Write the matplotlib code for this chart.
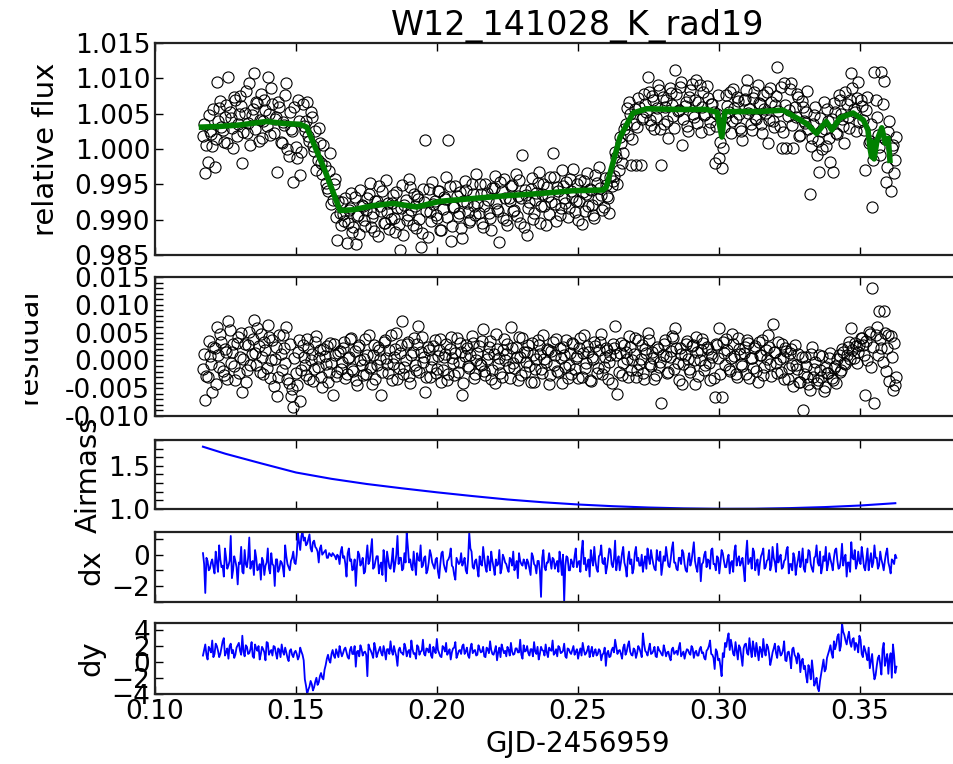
import numpy as np
import matplotlib
matplotlib.use("Agg")
import matplotlib.pyplot as plt
from matplotlib.ticker import MultipleLocator, FormatStrFormatter
from matplotlib.transforms import Bbox, TransformedBbox

plt.rcParams['font.family'] = ['DejaVu Sans']
plt.rcParams['font.size'] = 19
plt.rcParams['axes.labelsize'] = 21
plt.rcParams['axes.unicode_minus'] = True

# observation window; frames are evenly spaced, two interleaved sets (a: even, b: odd frames)
t_start, t_end = 0.117, 0.3625

# relative flux, parts per thousand above 1.0
flux_a = [
    1.8, -3.4, -1.8, 2.6, 0.4, -2.5, 9.5, 5.8, 3.1, 1.0, 6.2, 10.2, 4.4, 0.2, 6.9, 3.6, 7.5, -2.0, 5.1, 2.3,
    9.3, 4.8, 10.8, 6.6, 1.2, 7.8, 3.9, 5.5, 10.2, 2.0, 6.4, 4.2, -3.2, 5.9, 0.9, 3.4, 9.4, -1.0, 2.8, -4.6,
    0.3, 6.9, -3.7, 6.3, 2.5, 6.6, 1.2, 4.5, -0.3, -3.0, 3.0, -2.0, 0.5, -4.8, -6.0, -0.5, -7.2, -4.3, -12.9, -9.0,
    -7.5, -10.2, -13.3, -8.6, -6.2, -11.0, -13.4, -9.4, -5.8, -8.1, -10.9, -6.9, -4.8, -9.6, -11.6, -7.3, -5.3, -8.8, -10.4, -4.4,
    -7.7, -9.9, -6.5, -11.8, -8.3, -14.3, -5.1, -7.9, -10.0, -4.2, -8.6, -6.4, -11.2, -7.1, -13.8, -5.6, 1.3, -12.5, -8.9, -4.6,
    -7.4, -9.8, -5.9, -11.5, -6.8, -3.9, 1.3, -13.0, -8.2, -5.3, -9.5, -6.1, -12.6, -4.5, -7.6, -10.3, -5.0, -8.0, -3.6, -9.1,
    -6.3, -11.0, -4.9, -7.2, -9.7, -5.5, -3.8, -8.5, -13.1, -6.0, -4.3, -10.0, -7.0, -5.2, -8.8, -3.5, -6.7, -10.5, -0.9, -5.8,
    -12.1, -7.5, -4.1, -9.0, -6.2, -3.2, -8.0, -5.0, -10.8, -6.6, -4.0, -0.6, -7.8, -5.4, -9.3, -3.0, -6.9, -4.7, -8.4, -5.9,
    -2.8, -7.3, -10.1, -4.4, -6.1, -8.7, -3.4, -5.6, -7.9, -9.8, -4.8, -2.5, -6.5, -8.2, -5.1, -7.0, -3.9, -4.5, -0.4, -5.0,
    1.7, -2.0, 2.9, 5.8, 6.7, -2.3, 3.5, -2.3, 7.2, -2.3, 4.6, 6.3, 10.2, 4.1, 7.5, 2.9, 5.8, 8.4, -2.3, 3.6,
    6.9, 1.5, 7.9, 4.7, 11.2, 5.4, 8.8, 0.6, 6.1, 3.3, 7.4, 9.2, 4.5, 9.8, 6.7, 2.4, 8.1, 5.0, 7.2, 3.8,
    6.4, -2.0, 4.9, -1.3, -2.7, 3.1, 7.6, 5.3, 2.2, 8.5, 4.4, 6.8, 3.0, 1.3, 7.1, 9.8, 5.6, 2.7, 8.0, 4.2,
    6.5, 3.5, 7.7, 5.1, 0.8, 8.6, 4.0, 6.2, 11.6, 3.2, 0.1, 9.4, 0.1, 5.5, 9.3, 0.1, 4.6, 7.3, 2.0, 6.0,
    3.7, 8.2, -6.3, 1.6, 4.8, -0.9, -3.2, 2.5, 6.6, 0.4, 3.9, -1.8, -3.2, 5.2, 2.1, 7.0, 4.3, 0.9, 6.4, 3.0,
    10.7, 5.7, 2.6, 9.5, 6.9, 4.1, -3.0, 7.4, 1.2, -8.2, 10.9, 4.6, 0.3, 10.9, 9.6, -4.6, 2.4, -6.0, 0.6, -1.5,
]
flux_b = [
    3.5, 0.6, 4.8, 2.1, 5.6, 1.4, 3.9, 6.8, 2.7, 4.5, 0.9, 5.2, 3.0, 7.3, 1.8, 4.9, 6.1, 2.4, 8.2, 3.7,
    0.5, 5.7, 2.9, 6.5, 4.1, 1.6, 7.0, 3.3, 5.0, 8.6, 2.2, 4.6, 6.7, 1.0, 3.8, 7.6, 0.0, 5.3, 2.6, 6.0,
    -1.3, 4.0, -0.4, 3.2, 4.0, 1.8, 5.2, 0.4, 2.6, -1.5, 0.9, -3.6, -2.4, -5.5, -3.1, -7.8, -5.0, -9.6, -7.4, -10.8,
    -9.2, -7.0, -10.5, -8.3, -11.7, -6.8, -9.5, -12.0, -7.9, -10.1, -8.6, -6.3, -11.1, -9.0, -7.4, -12.3, -8.0, -5.9, -10.4, -8.9,
    -11.3, -7.6, -9.7, -6.1, -10.6, -8.4, -12.2, -7.2, -9.3, -5.4, -10.8, -8.1, -6.6, -9.9, -11.9, -7.5, -8.8, -5.7, -10.2, -7.8,
    -9.4, -6.0, -11.4, -8.5, -7.1, -9.6, -5.3, -10.9, -8.2, -6.7, -9.1, -11.2, -7.3, -5.8, -8.9, -10.0, -6.4, -9.3, -7.7, -4.9,
    -10.5, -8.0, -6.2, -9.0, -11.4, -5.5, -7.6, -8.7, -4.6, -9.8, -6.9, -10.7, -7.4, -5.1, -8.6, -9.5, -4.4, -7.0, -11.0, -6.5,
    -8.3, -5.7, -9.9, -7.2, -4.8, -10.4, -6.3, -8.1, -5.4, -9.2, -7.5, -3.9, -10.2, -6.0, -8.4, -5.2, -7.7, -9.6, -4.3, -6.8,
    -8.9, -5.0, -7.3, -10.6, -4.5, -6.4, -8.0, -5.8, -9.4, -3.7, -7.1, -5.5, -8.6, -4.1, -6.6, -9.0, -5.3, -3.8, -1.2, -2.9,
    0.8, -0.5, 3.6, 2.0, 4.9, 1.4, 5.6, 3.1, 6.0, 4.2, 7.8, 5.2, 8.0, 3.4, 6.9, 4.6, 9.1, 2.8, 7.3, 5.9,
    4.0, 8.7, 6.2, 3.0, 7.8, 5.5, 9.5, 4.3, 6.6, 2.5, 8.3, 5.0, 7.0, 3.7, 9.0, 6.0, 4.8, 8.9, 2.9, 6.3,
    5.3, 3.2, 7.7, 1.0, 0.2, 4.5, 6.1, 8.1, 3.9, 5.8, 7.4, 4.9, 2.6, 6.9, 8.4, 5.1, 3.6, 7.2, 4.4, 9.0,
    6.4, 2.3, 5.7, 8.0, 4.1, 6.6, 3.1, 7.5, 5.4, 8.8, 2.4, 6.2, 4.7, 8.5, 3.4, 5.9, 7.8, 1.9, 6.8, 4.0,
    5.2, 2.8, 0.4, 3.5, 6.0, 1.1, 4.4, 0.0, 2.9, 5.6, 1.5, 4.2, 6.5, 2.2, 7.7, 5.0, 3.3, 8.1, 4.6, 6.9,
    8.6, 5.3, 7.2, 3.8, 6.1, 2.7, 5.5, 0.8, 3.6, -1.6, 7.0, 2.0, -0.8, 6.3, 1.4, -2.6, 3.9, 0.2, -3.4, 1.7,
]

# residual, parts per thousand
resid_a = [
    -1.5, -7.1, -3.0, 0.8, -5.6, 2.2, 6.1, -1.2, 3.4, -2.6, 1.5, 7.0, -0.4, 2.9, -3.6, 4.2, 0.6, -5.6, 3.0, -1.8,
    5.2, 1.1, 7.2, -0.9, 2.6, 4.8, -2.4, 1.9, 6.4, -3.1, 3.7, 0.2, -6.4, 4.5, -1.7, 2.3, 6.1, -4.0, -6.4, -8.3,
    -2.2, 1.6, -7.3, 2.8, -0.9, 3.9, -3.3, 1.2, -1.6, 4.4, 0.5, -2.9, 2.0, -0.7, -3.8, 3.1, -6.2, 0.9, -2.1, 1.7,
    -0.3, 3.4, -2.5, 0.7, 4.1, -1.9, -3.6, 2.4, 0.0, -2.7, 3.8, 1.0, -1.4, -4.2, 2.7, -0.8, 1.9, -6.2, 3.3, 0.4,
    -2.2, 4.6, -0.6, 2.1, -3.4, 1.3, 7.0, -1.1, 3.0, -2.8, 0.9, 4.0, -1.7, 6.2, 1.6, -0.2, -5.6, 2.5, -3.0, 0.3,
    3.6, -1.5, 1.8, -3.9, 0.6, 2.9, -2.4, 4.3, -0.5, 1.4, -2.0, 3.1, -6.3, 0.8, 2.2, -1.3, 4.4, -3.2, 0.1, 2.6,
    -0.9, 5.6, -2.6, 1.2, 3.5, -1.8, -4.0, 2.0, 0.4, -2.9, 3.8, 1.1, -1.2, 6.1, -0.4, 2.4, -3.5, 0.7, 4.0, -2.1,
    1.5, -1.0, 3.2, -3.8, 0.2, 2.7, -1.6, 4.6, -0.3, 1.9, -2.7, 3.4, 0.9, -1.9, 2.3, -4.1, 1.0, 3.7, -0.8, -2.5,
    2.9, 0.5, -3.1, 4.1, 1.3, -1.4, 2.6, -3.6, 0.6, 3.3, -2.2, 1.8, 4.7, -1.1, 2.2, -3.3, 0.9, 3.0, 6.2, -6.0,
    1.4, -2.6, 2.8, 0.2, 4.4, -1.7, 1.1, -3.0, 3.6, 0.3, -2.3, 2.0, 4.9, -0.7, 1.6, -3.4, 2.5, -1.2, -7.6, 3.0,
    0.8, -2.0, 1.7, 4.0, 5.8, -0.5, 2.3, -4.2, 1.0, 3.5, -1.5, 2.6, 0.0, 4.3, -2.8, 1.8, 3.1, -0.9, 2.0, -3.6,
    0.7, -6.5, 2.7, 5.8, -6.5, 1.3, 3.9, -1.6, 0.5, 2.9, -2.4, 4.1, 1.2, -1.0, 2.4, 3.6, -3.2, 0.4, 2.2, -1.9,
    3.3, 0.9, -2.7, 1.9, 4.5, -0.6, 6.6, 1.5, -2.2, 0.3, 3.0, -3.3, 1.7, -1.3, 2.1, -4.6, -0.8, 1.2, -3.8, -8.9,
    0.6, -2.9, -5.4, 2.4, -1.5, -4.1, 0.9, -3.0, -5.5, -1.1, -2.3, 1.4, -3.6, -1.0, 0.3, -2.0, 2.1, -0.4, 1.0, 3.3,
    5.8, 0.5, 2.6, 1.6, 4.0, 2.8, -6.2, 0.0, 4.7, 13.0, -7.7, 6.0, 8.8, 2.2, 8.8, -1.9, 4.6, 4.4, -5.3, -4.5,
]
resid_b = [
    1.2, -2.8, 3.5, -0.6, 2.4, -4.3, 0.9, 4.7, -1.9, 2.0, -3.3, 5.4, 1.6, -1.0, 3.1, -2.2, 4.9, 0.3, -3.9, 2.7,
    -0.8, 3.9, 1.4, 5.9, -2.0, 0.6, 3.3, -1.3, 4.2, 0.0, -4.6, 2.5, -2.9, 1.1, 4.5, -0.5, -3.4, 2.9, -5.1, 0.4,
    -4.4, 3.6, -1.8, 0.7, -2.6, 2.3, 0.1, -3.7, 3.4, -1.1, 1.9, -4.8, 0.8, 2.6, -2.0, -0.4, 3.0, -2.8, 1.3, -1.5,
    2.2, -3.1, 0.5, 3.9, -1.6, 1.7, -4.4, 2.8, -0.9, 0.3, -2.5, 4.6, -1.2, 1.0, -3.3, 2.4, 0.2, -2.1, 3.7, -0.7,
    1.8, -3.5, 0.6, 5.0, -1.4, 2.7, -2.4, 0.1, 3.3, -4.1, 1.5, -0.8, 2.9, -2.0, 4.2, 0.7, -3.0, 1.9, -1.2, 2.6,
    -2.3, 0.8, 3.8, -1.7, 1.2, -3.6, 2.1, 0.4, -2.6, 4.0, -0.3, 1.6, -4.0, 2.8, -1.0, 0.9, 3.2, -2.5, 1.4, -0.6,
    3.5, -1.9, 0.2, 2.5, -3.4, 1.1, 4.8, -0.7, -2.2, 1.8, 0.0, 3.0, -3.1, 2.3, -1.4, 0.6, 4.3, -2.7, 1.5, -0.2,
    2.7, -3.8, 0.9, -1.5, 3.6, 1.2, -2.3, 0.3, 2.0, -4.2, 1.7, -0.9, 3.9, -2.0, 0.5, 2.4, -1.1, -3.2, 1.3, 3.1,
    -1.6, 0.8, 2.2, -2.9, 4.5, -0.5, 1.5, -3.7, 0.3, 2.6, -1.3, 3.4, -2.4, 0.7, 1.9, -0.2, -4.0, 2.3, 0.9, -2.1,
    3.2, -0.4, 1.6, -3.0, 2.5, 0.1, 4.1, -1.8, -0.6, 2.8, -3.3, 1.3, 3.7, -1.0, 0.4, -2.6, 2.1, -0.3, 1.0, 3.6,
    -2.2, 0.6, 4.4, -1.5, 2.3, -3.5, 1.1, -0.7, 3.0, 0.2, -2.0, 2.7, -4.3, 1.5, 0.0, 3.8, -1.8, 2.4, -0.5, 1.2,
    -3.1, 2.9, 0.4, -2.5, 3.4, -0.9, 1.8, -1.9, 4.7, 0.8, -3.0, 2.0, -0.6, 1.3, -2.4, 3.1, 0.5, -1.4, 2.6, -3.8,
    1.0, 3.7, -1.2, 0.2, 2.4, -2.8, 1.6, -0.4, 3.3, -2.0, 0.7, 2.2, -3.4, 1.4, -0.8, 2.8, -1.6, -3.9, 0.6, -2.4,
    -1.0, -4.3, 1.2, -2.9, -0.3, -3.6, -1.7, 0.8, -4.8, -2.2, 0.4, -3.1, -1.4, -4.0, 0.9, -1.8, 1.6, -0.7, 2.5, 0.3,
    1.9, 3.2, -0.5, 2.7, 4.1, 0.9, 3.5, 5.2, -1.2, 2.4, 4.6, 1.0, 3.9, -0.3, 5.0, 2.2, -3.7, 0.6, 3.1, -2.9,
]

# transit + systematics model (green curve)
model_t = [0.1165, 0.1230, 0.1300, 0.1396, 0.1460, 0.1514, 0.1538, 0.1600, 0.1656, 0.1703, 0.1774,
           0.1845, 0.1928, 0.2010, 0.2128, 0.2247, 0.2365, 0.2482, 0.2589, 0.2600, 0.2649, 0.2695,
           0.2744, 0.2850, 0.2956, 0.2993, 0.3010, 0.3021, 0.3145, 0.3227, 0.3310, 0.3346, 0.3380,
           0.3400, 0.3429, 0.3475, 0.3512, 0.3528, 0.3536, 0.3541, 0.3545, 0.3550, 0.3560, 0.3577,
           0.3590, 0.3600, 0.3606]
model_flux = [1.0031, 1.0032, 1.0034, 1.0039, 1.0036, 1.0035, 1.0031, 0.9972, 0.9913, 0.9914, 0.9920,
              0.9923, 0.9918, 0.9926, 0.9930, 0.9934, 0.9937, 0.9941, 0.9942, 0.9946, 1.0017, 1.0051,
              1.0057, 1.0056, 1.0056, 1.0052, 1.0017, 1.0053, 1.0053, 1.0055, 1.0036, 1.0022, 1.0039,
              1.0027, 1.0044, 1.0051, 1.0041, 1.0027, 1.0000, 0.9989, 1.0010, 0.9986, 1.0012, 1.0030,
              1.0008, 1.0015, 0.9984]

# airmass
air_t = [0.117, 0.125, 0.1375, 0.150, 0.1625, 0.175, 0.1875, 0.200, 0.2125, 0.225, 0.2375, 0.250,
         0.2625, 0.275, 0.2875, 0.300, 0.3125, 0.325, 0.3375, 0.350, 0.3625]
airmass = [1.722, 1.640, 1.530, 1.423, 1.350, 1.290, 1.240, 1.193, 1.150, 1.110, 1.078, 1.052,
           1.032, 1.017, 1.007, 1.002, 1.003, 1.010, 1.022, 1.040, 1.067]

# centroid shifts (pixels)
dx_a = [
    0.1, -2.45, -0.4, -0.9, -0.3, -1.2, -0.5, 0.6, -0.8, -1.4, -0.2, -0.7, 1.2, -1.0, -0.4, -1.9, -0.6, -1.1, 0.3, -0.8,
    1.1, -0.5, -1.3, -0.2, -0.9, -1.6, -0.4, -0.7, 0.4, -1.2, -0.6, -2.0, -0.3, -0.9, -0.5, -1.4, -0.1, -0.8, -0.4, 0.2,
    -0.6, 1.4, 0.3, 1.45, 1.1, 0.7, 1.3, 0.2, 0.9, 0.4, -0.5, 0.6, 0.1, 0.3, -0.2, 0.0, 0.1, -0.1, 0.0, -0.6,
    0.5, -0.1, -1.4, 0.4, -0.3, -0.9, -2.0, 0.2, -0.7, -0.2, -1.1, 0.6, -0.4, 1.0, -0.8, -0.1, -1.2, -0.5, 0.3, -1.7,
    -0.3, -0.9, 0.4, -0.6, 1.2, -0.2, -1.0, 0.1, 1.4, -0.5, -0.8, 0.2, -1.3, -0.3, 0.6, -0.7, -0.1, -1.0, 0.3, -0.5,
    -0.9, -0.2, -1.5, 0.1, -0.6, -1.1, -0.3, 0.4, -0.8, -1.6, -0.4, -0.5, -0.7, -0.2, -1.2, 1.4, 0.2, -0.9, -0.3, -1.4,
    -0.6, 0.5, -0.8, -0.1, -1.0, -0.4, -1.3, -0.7, 0.3, -0.9, -0.2, -0.6, -1.1, -0.3, 0.2, -0.8, -1.5, -0.4, -0.7, -0.5,
    -0.3, -0.9, 0.1, -0.6, -1.2, -0.4, -2.7, 0.3, -1.0, -0.5, -0.4, -0.2, -0.9, -0.4, 0.2, -1.3, -3.03, -0.1, -1.0, -0.3,
    -0.8, 0.4, -0.5, -1.1, 0.9, -0.2, -0.7, -1.4, -0.3, 0.5, -0.9, -0.1, 0.6, -0.6, -1.2, -0.2, 0.3, -0.8, 0.9, -0.4,
    -1.0, 0.1, -0.5, -1.4, 0.2, -0.3, -0.9, 0.5, -0.2, -0.7, -1.1, -0.1, 0.4, -0.6, -0.2, -0.9, 0.3, -0.4, -1.3, -0.1,
    0.5, -0.7, -0.3, 0.8, -0.5, -1.0, -0.2, 0.3, -0.6, -1.1, 0.1, -0.4, 0.8, -0.8, -0.2, -1.7, -0.5, 0.2, -0.3, -0.9,
    0.4, -0.6, -0.1, -1.2, 0.3, -0.4, -0.8, 0.0, -0.5, -1.1, 0.6, -0.3, -0.7, -0.2, -1.7, 0.9, -0.4, -0.9, 0.2, -0.6,
    -1.3, -0.1, 0.4, -0.8, -0.3, -1.0, 0.5, -0.5, 0.7, -0.2, -0.9, -0.4, 0.3, -1.2, -0.6, 0.1, -1.3, -0.3, -0.8, 0.4,
    -1.1, -0.5, 0.2, -0.9, -0.2, 0.6, -0.7, -1.2, -0.1, 0.5, -0.6, -0.3, -1.0, 0.3, -0.4, -0.8, 0.7, -0.2, -1.4, -0.5,
    0.8, -0.3, -0.9, 0.2, -0.6, -0.1, -1.0, 0.4, -0.4, -0.8, 0.6, -0.2, -0.7, -0.3, -1.0, 0.1, -0.5, -1.2, -0.4, 0.0,
]
dx_b = [
    -0.6, -0.2, -1.0, -0.5, -0.8, 0.2, -1.1, -0.3, -0.7, 0.4, -0.9, -0.4, -1.5, -0.1, -0.8, -0.5, 0.5, -1.2, -0.6, -0.2,
    -0.9, -0.4, 0.3, -1.0, -0.6, -0.2, -1.3, -0.5, -0.9, 0.1, -0.7, -0.3, -1.1, -0.4, -0.8, 0.6, -0.6, -1.0, -0.2, -0.5,
    0.0, 0.8, 1.2, 0.9, 0.6, 1.0, 0.4, 0.8, 0.5, 0.2, 0.4, 0.0, 0.2, -0.2, 0.1, -0.1, 0.0, -0.3, -0.1, 0.2,
    -0.2, -0.6, 0.1, -0.4, -1.0, -0.3, -0.7, 0.0, -0.5, -1.2, -0.2, -0.6, 0.3, -0.9, -0.4, -0.1, -0.7, -1.3, -0.3, 0.2,
    -0.8, -0.4, -1.1, 0.0, -0.6, -0.2, -0.9, -0.5, 0.5, -0.3, -1.0, -0.6, 0.1, -0.4, -0.8, -0.2, -1.2, -0.5, 0.0, -0.7,
    -0.3, -1.1, -0.6, 0.2, -0.9, -0.4, -0.1, -0.7, -1.3, -0.2, -0.6, 0.1, -0.5, -1.0, -0.3, 0.4, -0.8, -0.4, -0.9, -0.1,
    -0.7, -0.2, -1.1, -0.5, 0.2, -0.8, -0.3, -0.6, -1.2, 0.0, -0.5, -0.9, -0.2, -0.7, -1.0, -0.4, 0.1, -0.6, -0.3, -0.9,
    -0.5, -1.3, -0.1, -0.7, -0.4, -1.0, -0.2, -0.8, -0.5, 0.1, -0.9, -0.3, -0.6, -1.1, -0.4, 0.0, -0.7, -0.2, -1.0, -0.5,
    -0.1, -0.8, -0.4, 0.2, -0.6, -1.0, -0.3, 0.3, -0.7, -0.4, -1.1, 0.0, -0.5, -0.2, -0.8, 0.4, -0.6, -0.3, -1.0, -0.1,
    -0.5, 0.5, -0.8, -0.3, -0.6, -1.2, 0.1, -0.4, -0.7, 0.0, -0.5, -0.9, -0.2, 0.3, -0.6, -1.0, -0.3, 0.2, -0.7, -0.4,
    -0.1, -0.8, 0.4, -0.5, -0.9, -0.2, -0.6, 0.1, -1.0, -0.3, -0.7, 0.2, -0.4, -1.1, -0.2, -0.6, 0.0, -0.8, -0.4, 0.3,
    -0.6, -1.0, -0.2, -0.5, 0.1, -0.8, -0.3, -1.2, -0.4, 0.2, -0.7, -0.1, -0.5, -0.9, 0.0, -0.6, -0.2, 0.4, -1.0, -0.3,
    -0.6, 0.1, -0.9, -0.4, 0.3, -0.7, -0.2, -1.1, -0.5, 0.0, -0.8, -0.3, 0.5, -0.6, -1.0, -0.2, -0.7, 0.2, -0.4, -0.9,
    -0.3, 0.3, -0.6, -1.1, -0.1, -0.5, 0.2, -0.8, -0.4, -1.0, 0.1, -0.6, -0.2, 0.4, -0.9, -0.3, -0.7, 0.0, -0.5, -1.1,
    -0.2, 0.3, -0.6, -0.4, 0.5, -0.8, -0.3, -1.0, 0.1, -0.5, -0.2, -0.9, 0.2, -0.6, -0.4, 0.4, -0.8, -0.3, -0.6, -0.2,
]

dy_a = [
    0.8, 2.2, 0.3, 1.6, 2.7, 1.0, 2.0, 0.6, 1.8, 3.0, 1.2, 0.4, 2.3, 1.5, 0.9, 2.1, 1.4, 3.3, 0.7, 1.9,
    1.1, 2.5, 0.5, 1.7, 2.0, 1.0, 1.6, 0.2, 2.4, 1.3, 0.8, 1.9, 0.4, 1.5, 2.2, 0.9, 1.2, 0.1, 1.6, 0.6,
    1.4, 0.3, 1.8, 0.9, -2.2, -4.05, -3.1, -2.8, -3.2, -2.0, -2.6, -1.4, -2.2, -0.4, 0.9, -0.1, 1.5, 0.5, 1.1, 2.0,
    0.7, 1.6, 1.2, 0.4, 1.9, 1.0, -0.6, 1.4, 2.1, 0.8, 1.3, -1.8, 1.7, 1.0, 2.4, 0.6, 1.5, 1.1, 2.0, 0.3,
    1.6, 2.6, 0.9, 1.3, -0.5, 1.8, 1.1, 2.3, 0.7, 1.5, 2.7, 1.0, 0.4, 1.9, 1.3, 2.8, 0.8, 1.6, 2.2, 0.5,
    1.4, 2.9, 1.1, 0.6, 1.8, 2.4, 1.2, 0.3, 1.7, 2.5, 0.9, 1.5, 2.0, 1.0, 1.8, 0.5, 2.3, 1.4, 0.8, 2.1,
    1.2, 1.9, 0.6, 1.6, 2.6, 1.0, 1.4, 0.2, 1.8, 2.2, 1.1, 0.7, 1.5, 2.4, 0.9, 1.7, 1.2, 2.8, 0.4, 1.3,
    2.0, 0.8, 1.6, 2.5, 1.0, 0.3, 1.9, 1.4, 2.2, 0.6, 1.5, 2.7, 1.1, 0.7, 1.8, 1.2, 2.3, 0.5, 1.6, 1.0,
    2.0, 1.3, 0.4, 1.7, 2.4, 0.9, 1.5, 0.6, 1.9, 1.2, 0.8, 1.6, 0.2, 1.1, -0.5, 1.4, 0.7, 1.8, 2.8, 1.0,
    1.5, 0.4, 2.2, 1.3, 2.6, 0.9, 1.7, 0.5, 2.0, 1.2, 3.6, 1.4, 0.8, 2.3, 1.1, 1.9, 0.6, 1.5, 1.0, 2.1,
    0.7, 1.3, 0.2, 1.8, 1.2, 0.9, 2.4, 1.0, 0.4, 1.6, 1.1, 2.0, 0.5, 1.4, 0.8, 1.9, 1.2, 0.3, 1.6, 2.7,
    0.9, -0.9, 1.3, 0.4, -1.8, 0.6, 1.9, 3.6, 2.8, 1.0, 2.5, 0.3, 1.8, -0.5, 2.2, 1.1, 3.0, 0.6, 1.7, 2.4,
    0.2, 1.5, 2.9, 0.8, 1.9, -0.4, 1.2, 2.3, 0.5, 1.6, 1.0, 2.6, 0.1, 1.3, -0.8, 1.8, 0.6, 1.1, -1.3, 0.4,
    -0.5, -2.6, -1.0, 0.2, -3.0, -2.0, -3.7, -1.5, 0.3, -0.9, 1.0, 2.1, 0.5, 1.6, 3.2, 1.4, 4.9, 3.4, 2.2, 3.8,
    1.9, 3.0, 2.4, 1.2, 2.8, 0.6, 1.5, 0.2, -0.8, 1.0, -2.2, -0.5, 0.8, -1.6, 2.4, 0.3, -1.5, 1.1, 2.2, -1.4,
]
dy_b = [
    1.5, 0.9, 1.9, 1.2, 0.6, 2.3, 1.4, 1.0, 2.6, 0.8, 1.7, 2.0, 1.1, 0.5, 1.8, 2.4, 0.9, 1.3, 2.1, 1.0,
    1.6, 0.7, 2.2, 1.4, 0.3, 1.9, 1.2, 2.5, 0.9, 1.5, 2.0, 1.1, 1.7, 0.6, 1.3, 1.8, 0.5, 1.4, 0.9, 1.2,
    1.0, 0.7, 1.3, 0.2, -3.0, -3.5, -2.4, -3.6, -2.5, -2.9, -1.8, -2.0, -1.0, 0.4, 0.2, 1.0, 0.8, 1.6, 0.6, 1.3,
    1.1, 1.8, 0.6, 1.5, 1.0, 2.0, 1.3, 0.7, 1.6, 1.2, 0.9, 2.2, 1.4, 0.5, 1.7, 1.1, 1.9, 0.8, 1.3, 1.6,
    1.0, 1.4, 2.0, 0.7, 1.5, 1.2, 0.9, 1.8, 1.3, 0.6, 1.6, 1.1, 2.1, 0.9, 1.4, 1.0, 1.7, 1.2, 0.8, 1.9,
    1.1, 1.5, 0.7, 2.0, 1.3, 0.9, 1.6, 1.2, 1.8, 0.5, 1.4, 1.0, 2.2, 1.3, 0.8, 1.7, 1.1, 1.5, 0.9, 1.6,
    1.3, 0.7, 1.8, 1.1, 1.5, 0.9, 2.0, 1.2, 0.6, 1.6, 1.4, 1.9, 0.8, 1.3, 1.0, 1.7, 1.2, 0.9, 2.1, 1.4,
    1.1, 1.6, 0.7, 1.3, 1.9, 1.0, 1.5, 0.8, 1.2, 1.8, 1.4, 0.9, 1.6, 2.0, 1.1, 1.4, 0.7, 1.7, 1.2, 1.5,
    0.9, 1.6, 1.2, 0.8, 1.5, 1.1, 2.0, 1.3, 0.7, 1.6, 1.0, 1.4, 0.9, 1.8, 1.1, 0.6, 1.5, 1.2, 1.9, 1.4,
    1.0, 1.8, 0.9, 2.1, 1.3, 0.8, 1.5, 1.1, 1.7, 0.6, 2.3, 1.2, 1.6, 1.0, 1.4, 0.7, 1.9, 1.3, 0.8, 1.5,
    1.2, 0.6, 1.6, 1.0, 1.4, 1.8, 0.7, 1.3, 1.1, 1.5, 0.9, 1.7, 1.2, 0.8, 1.6, 1.1, 0.5, 1.4, 2.0, 1.0,
    0.5, 1.6, 0.2, -0.6, 1.1, 2.4, 2.9, 1.5, 2.0, 0.8, 1.4, 2.1, 0.6, 1.7, 2.3, 0.9, 1.6, 2.6, 0.7, 1.3,
    1.9, 0.6, 1.4, 2.2, 1.0, 0.3, 1.7, 1.1, 2.0, 0.8, 1.5, 0.2, 1.2, 0.5, 1.6, 0.9, -0.2, 0.8, 0.1, -0.9,
    -1.8, -0.4, -2.2, -1.2, -2.6, -3.3, -2.4, -0.6, -1.2, 0.5, 1.5, 1.1, 2.6, 2.2, 3.5, 2.0, 3.8, 2.7, 3.1, 2.4,
    2.8, 1.5, 2.1, 3.3, 1.0, 2.0, 0.9, 1.8, 0.1, -1.0, -1.7, 0.5, -0.3, 1.6, -0.5, 1.0, 0.4, -2.0, 0.8, -0.6,
]


def frame_times(values, offset):
    # times of one interleaved set of frames
    step = (t_end - t_start) / (len(values) - 1)
    return t_start + offset * step + step * np.arange(len(values))


def merged(a, b):
    t = np.concatenate([frame_times(a, 0.0), frame_times(b, 0.5)])
    v = np.concatenate([a, b])
    order = np.argsort(t)
    return t[order], v[order]


t_flux, flux = merged(flux_a, flux_b)
flux = 1.0 + flux / 1000.0
t_res, resid = merged(resid_a, resid_b)
resid = resid / 1000.0
t_dx, dx = merged(dx_a, dx_b)
t_dy, dy = merged(dy_a, dy_b)

fig = plt.figure(figsize=(9.54, 7.64), dpi=100)
left, width = 0.1625, 0.8868
ax1 = fig.add_axes([left, 0.6662, width, 0.2775])
ax2 = fig.add_axes([left, 0.4555, width, 0.1819])
ax3 = fig.add_axes([left, 0.3338, width, 0.0903])
ax4 = fig.add_axes([left, 0.2120, width, 0.0916])
ax5 = fig.add_axes([left, 0.0916, width, 0.0929])
axes = [ax1, ax2, ax3, ax4, ax5]

ax1.plot(t_flux, flux, 'o', mfc='none', mec='k', ms=8, mew=0.8)
ax1.plot(model_t, model_flux, '-', color='g', lw=4)
ax1.set_ylim(0.985, 1.015)
ax1.yaxis.set_major_locator(MultipleLocator(0.005))
ax1.yaxis.set_major_formatter(FormatStrFormatter('%.3f'))
ax1.set_ylabel('relative flux')
ax1.yaxis.set_label_coords(-0.112, 0.5)
ax1.set_title('W12_141028_K_rad19', fontsize=24)

ax2.plot(t_res, resid, 'o', mfc='none', mec='k', ms=8, mew=0.8)
ax2.set_ylim(-0.010, 0.015)
ax2.yaxis.set_major_locator(MultipleLocator(0.005))
ax2.yaxis.set_minor_locator(MultipleLocator(0.001))
ax2.yaxis.set_major_formatter(FormatStrFormatter('%.3f'))
ax2.set_ylabel('residual')
ax2.yaxis.set_label_coords(-0.1335, 0.5)
# the reference shows this label cut at its left side
clip = TransformedBbox(Bbox([[25 / 954, 0], [1, 1]]), fig.transFigure)
ax2.yaxis.label.set_clip_box(clip)
ax2.yaxis.label.set_clip_on(True)

ax3.plot(air_t, airmass, '-', color='b', lw=1.5)
ax3.set_ylim(1.0, 1.8)
ax3.yaxis.set_major_locator(MultipleLocator(0.5))
ax3.yaxis.set_minor_locator(MultipleLocator(0.1))
ax3.yaxis.set_major_formatter(FormatStrFormatter('%.1f'))
ax3.set_ylabel('Airmass')

ax4.plot(t_dx, dx, '-', color='b', lw=1.3)
ax4.set_ylim(dx.min(), dx.max())
ax4.yaxis.set_major_locator(MultipleLocator(2))
ax4.yaxis.set_minor_locator(MultipleLocator(1))
ax4.set_ylabel('dx')

ax5.plot(t_dy, dy, '-', color='b', lw=1.3)
ax5.set_ylim(dy.min(), dy.max())
ax5.yaxis.set_major_locator(MultipleLocator(2))
ax5.set_ylabel('dy')
ax5.set_xlabel('GJD-2456959', fontsize=20)

for ax in axes:
    ax.set_xlim(0.10, 0.40)
    ax.xaxis.set_major_locator(MultipleLocator(0.05))
    ax.xaxis.set_major_formatter(FormatStrFormatter('%.2f'))
    ax.tick_params(which='both', direction='in', top=True, right=True, length=6, width=1)
    for sp in ax.spines.values():
        sp.set_linewidth(1.6)
        sp.set_color('#222222')
    if ax is not ax5:
        ax.tick_params(labelbottom=False)

fig.savefig('out.png', dpi=100, facecolor='white')
